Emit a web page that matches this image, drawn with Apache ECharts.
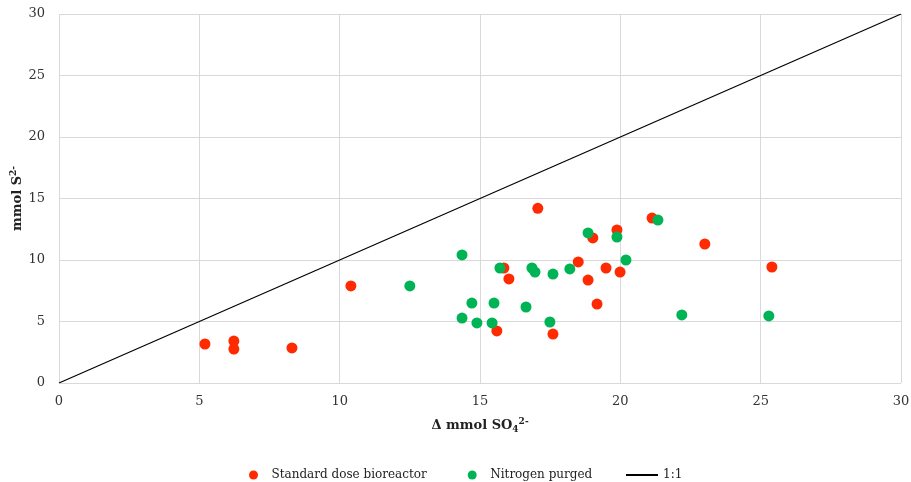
<!DOCTYPE html>
<html>
<head>
<meta charset="utf-8">
<script src="https://cdn.jsdelivr.net/npm/echarts@6/dist/echarts.min.js"></script>
<style>
  html, body { margin: 0; padding: 0; background: #fff; }
  #chart { width: 911px; height: 482px; }
</style>
</head>
<body>
<div id="chart"></div>
<script>
// Standard dose bioreactor: [Δ SO4, S2-]
var standardX = [5.2, 6.23, 6.23, 8.3, 10.4, 17.06, 15.85, 16.03, 15.6, 17.6, 18.5, 19.88, 19.02, 21.13, 23.01, 19.49, 19.99, 18.85, 19.17, 25.4];
var standardY = [3.17, 3.41, 2.76, 2.85, 7.89, 14.2, 9.35, 8.46, 4.23, 3.98, 9.84, 12.44, 11.79, 13.41, 11.3, 9.35, 9.02, 8.37, 6.42, 9.43];

// Nitrogen purged
var purgedX = [14.36, 12.5, 15.71, 16.85, 16.96, 17.6, 18.2, 14.71, 15.5, 16.64, 14.36, 14.89, 15.43, 17.49, 18.85, 19.88, 21.34, 20.2, 22.19, 25.29];
var purgedY = [10.41, 7.89, 9.35, 9.35, 9.02, 8.86, 9.27, 6.5, 6.5, 6.18, 5.28, 4.88, 4.88, 4.96, 12.2, 11.87, 13.25, 10.0, 5.53, 5.45];

// 1:1 line
var lineX = [0, 30];
var lineY = [0, 30];

function zip(xs, ys) {
  var out = [];
  for (var i = 0; i < xs.length; i++) out.push([xs[i], ys[i]]);
  return out;
}

var font = "DejaVu Serif";
var legendText = { fontFamily: font, fontSize: 12, color: "#222" };
var chart = echarts.init(document.getElementById("chart"));
chart.setOption({
  animation: false,
  textStyle: { fontFamily: font },
  grid: { left: 59, right: 10, top: 14, bottom: 99, outerBoundsMode: "none", containLabel: false },
  legend: [
    {
      top: 464,
      left: 244,
      itemGap: 41,
      itemWidth: 26,
      itemHeight: 9,
      textStyle: legendText,
      data: [
        { name: "Standard dose bioreactor", icon: "circle" },
        { name: "Nitrogen purged", icon: "circle" }
      ]
    },
    {
      top: 464,
      left: 620,
      itemWidth: 32,
      itemHeight: 9,
      textStyle: legendText,
      data: [{ name: "1:1", itemStyle: { opacity: 0 } }]
    }
  ],
  xAxis: {
    type: "value",
    min: 0, max: 30, interval: 5,
    name: "{b|Δ mmol SO}{sub|4}{sup|2-}",
    nameLocation: "middle",
    nameGap: 34,
    nameMoveOverlap: false,
    nameTextStyle: {
      rich: {
        b: { fontFamily: font, fontWeight: "bold", fontSize: 13, color: "#222" },
        sub: { fontFamily: font, fontWeight: "bold", fontSize: 9, color: "#222", verticalAlign: "bottom", padding: [6, 0, 0, 0] },
        sup: { fontFamily: font, fontWeight: "bold", fontSize: 9, color: "#222", padding: [0, 0, 8, 0] }
      }
    },
    axisLine: { show: false },
    axisTick: { show: false },
    axisLabel: { fontFamily: font, fontSize: 13, color: "#333", margin: 12 },
    splitLine: { lineStyle: { color: "#d9d9d9" } }
  },
  yAxis: {
    type: "value",
    min: 0, max: 30, interval: 5,
    name: "{b|mmol S}{sup|2-}",
    nameLocation: "middle",
    nameRotate: 90,
    nameGap: 33,
    nameMoveOverlap: false,
    nameTextStyle: {
      rich: {
        b: { fontFamily: font, fontWeight: "bold", fontSize: 13, color: "#222" },
        sup: { fontFamily: font, fontWeight: "bold", fontSize: 9, color: "#222", padding: [0, 0, 8, 0] }
      }
    },
    axisLine: { show: false },
    axisTick: { show: false },
    axisLabel: { fontFamily: font, fontSize: 13, color: "#333", margin: 14 },
    splitLine: { lineStyle: { color: "#d9d9d9" } }
  },
  series: [
    {
      name: "Standard dose bioreactor",
      type: "scatter",
      symbolSize: 11,
      itemStyle: { color: "#ff2a00", opacity: 1 },
      data: zip(standardX, standardY)
    },
    {
      name: "Nitrogen purged",
      type: "scatter",
      symbolSize: 11,
      itemStyle: { color: "#00b455", opacity: 1 },
      data: zip(purgedX, purgedY)
    },
    {
      name: "1:1",
      type: "line",
      symbol: "none",
      lineStyle: { color: "#000", width: 1.2 },
      itemStyle: { color: "#000" },
      data: zip(lineX, lineY)
    }
  ]
});
</script>
</body>
</html>
